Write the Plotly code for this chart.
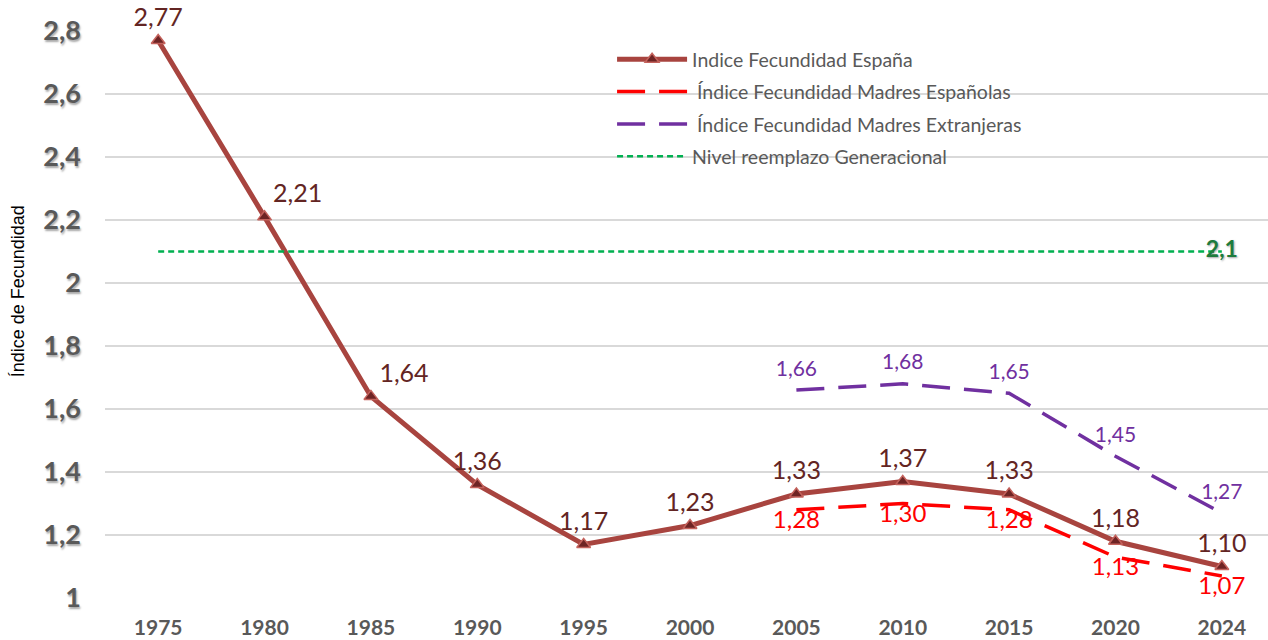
import plotly.graph_objects as go

# ── data ──────────────────────────────────────────────────────────────────────
years = ["1975", "1980", "1985", "1990", "1995", "2000", "2005", "2010", "2015", "2020", "2024"]
espana = [2.77, 2.21, 1.64, 1.36, 1.17, 1.23, 1.33, 1.37, 1.33, 1.18, 1.10]
sub_years = ["2005", "2010", "2015", "2020", "2024"]
madres_esp = [1.28, 1.30, 1.28, 1.13, 1.07]
madres_ext = [1.66, 1.68, 1.65, 1.45, 1.27]
reemplazo = [2.1] * len(years)


def fmt(v):
    return f"{v:.2f}".replace(".", ",")


LABEL_FONT = "Lato, 'Open Sans', sans-serif"

fig = go.Figure()

# Indice Fecundidad España
esp_pos = ["top center", "top right", "top right", "top center", "top center",
           "top center", "top center", "top center", "top center", "top center", "top center"]
fig.add_trace(go.Scatter(
    x=years, y=espana, name="Indice Fecundidad España",
    mode="lines+markers+text",
    line=dict(color="#A8443F", width=5),
    marker=dict(symbol="triangle-up", size=12, color="#6E2424",
                line=dict(color="#C4625C", width=1.5)),
    text=[fmt(v) for v in espana], textposition=esp_pos,
    textfont=dict(family=LABEL_FONT, size=25, color="#632523"),
    legendgroup="a", cliponaxis=False,
))

# Índice Fecundidad Madres Españolas
fig.add_trace(go.Scatter(
    x=sub_years, y=madres_esp, name=" Índice Fecundidad Madres Españolas",
    mode="lines+text",
    line=dict(color="#FF0000", width=3.5, dash="28px,14px"),
    text=[fmt(v) for v in madres_esp], textposition="bottom center",
    textfont=dict(family=LABEL_FONT, size=24, color="#FF0000"),
    legendgroup="b", cliponaxis=False,
))

# Índice Fecundidad Madres Extranjeras (transparent markers push labels up a bit)
fig.add_trace(go.Scatter(
    x=sub_years, y=madres_ext, name=" Índice Fecundidad Madres Extranjeras",
    mode="lines+markers+text",
    line=dict(color="#7030A0", width=3.5, dash="28px,14px"),
    marker=dict(size=13, color="rgba(0,0,0,0)", line=dict(width=0)),
    text=[fmt(v) for v in madres_ext], textposition="top center",
    textfont=dict(family=LABEL_FONT, size=21, color="#7030A0"),
    legendgroup="c", cliponaxis=False,
))

# Nivel reemplazo Generacional
fig.add_trace(go.Scatter(
    x=years, y=reemplazo, name="Nivel reemplazo Generacional",
    mode="lines+text",
    line=dict(color="#00B050", width=2.5, dash="6px,4px"),
    text=[""] * (len(years) - 1) + [fmt(reemplazo[-1])[:3]],
    textposition="middle center",
    textfont=dict(family=LABEL_FONT, size=23, color="#1E7B3C", weight="bold",
                  shadow="1px 1px 2px rgba(0,0,0,0.35)"),
    legendgroup="d", cliponaxis=False,
))

fig.update_layout(
    width=1268, height=640,
    margin=dict(l=105, r=0, t=31, b=42),
    plot_bgcolor="white", paper_bgcolor="white",
    separators=",.",
    font=dict(family=LABEL_FONT, color="#595959"),
    showlegend=True,
    legend=dict(x=0.436, y=0.984, xanchor="left", yanchor="top",
                bgcolor="rgba(255,255,255,0)", itemwidth=70,
                tracegroupgap=4,
                font=dict(family=LABEL_FONT, size=19.5, color="#595959")),
    xaxis=dict(type="category", range=[-0.5, 10.434], showgrid=False,
               zeroline=False, showline=False, ticks="", ticklabelstandoff=15,
               tickfont=dict(family=LABEL_FONT, size=21, color="#595959", weight="bold")),
    yaxis=dict(range=[1, 2.8], dtick=0.2, showgrid=True, gridcolor="#D9D9D9",
               gridwidth=2, zeroline=False, showline=False, ticklabelstandoff=23,
               tickfont=dict(family=LABEL_FONT, size=27, color="#595959", weight="bold",
                             shadow="1px 2px 2px rgba(0,0,0,0.35)")),
    annotations=[dict(
        text="Índice de Fecundidad", xref="paper", yref="paper",
        x=-(105 - 18) / 1163, y=0.541, xanchor="center", yanchor="middle",
        textangle=-90, showarrow=False,
        font=dict(family="Liberation Sans, Arial", size=18, color="#000000"),
    )],
)

fig.write_html("out.html", config={"displayModeBar": False},
               post_script="document.body.style.margin='0';")
